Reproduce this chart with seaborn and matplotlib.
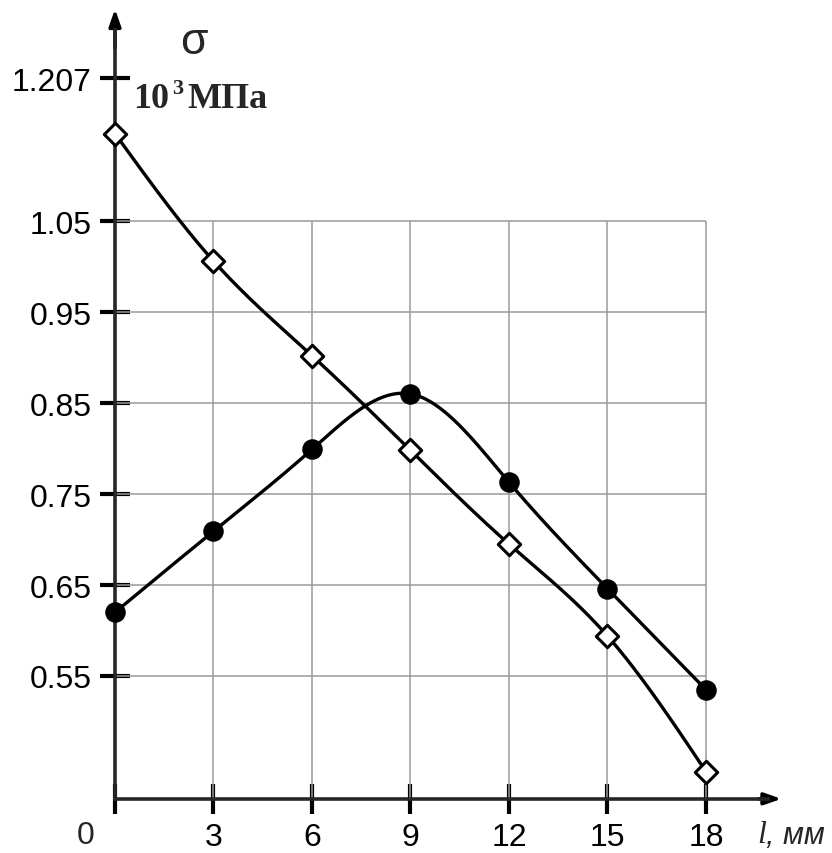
import numpy as np
import pandas as pd
import matplotlib
matplotlib.use("Agg")
import matplotlib.pyplot as plt
import seaborn as sns

# ---- data ----
l_mm = [0, 3, 6, 9, 12, 15, 18]
sigma_diamond = [1.146, 1.006, 0.902, 0.798, 0.695, 0.594, 0.445]
sigma_circle = [0.620, 0.709, 0.799, 0.860, 0.763, 0.646, 0.535]
x_ticks = [0, 3, 6, 9, 12, 15, 18]
y_grid = [0.55, 0.65, 0.75, 0.85, 0.95, 1.05]
y_ticks = [0.55, 0.65, 0.75, 0.85, 0.95, 1.05, 1.207]
y_tick_labels = ["0.55", "0.65", "0.75", "0.85", "0.95", "1.05", "1.207"]


def natural_spline(x, y, xs):
    x = np.asarray(x, float); y = np.asarray(y, float)
    n = len(x); h = np.diff(x)
    A = np.zeros((n, n)); r = np.zeros(n)
    A[0, 0] = A[-1, -1] = 1
    for i in range(1, n - 1):
        A[i, i - 1] = h[i - 1]; A[i, i] = 2 * (h[i - 1] + h[i]); A[i, i + 1] = h[i]
        r[i] = 6 * ((y[i + 1] - y[i]) / h[i] - (y[i] - y[i - 1]) / h[i - 1])
    M = np.linalg.solve(A, r)
    out = np.empty_like(xs)
    for k, t in enumerate(xs):
        i = min(max(np.searchsorted(x, t) - 1, 0), n - 2)
        a = x[i + 1] - t; b = t - x[i]
        out[k] = (M[i] * a**3 + M[i + 1] * b**3) / (6 * h[i]) \
            + (y[i] / h[i] - M[i] * h[i] / 6) * a + (y[i + 1] / h[i] - M[i + 1] * h[i] / 6) * b
    return out


sns.set_style("white")
plt.rcParams["font.family"] = ["Liberation Sans Narrow", "Liberation Sans", "DejaVu Sans"]

W, H = 832, 854
fig = plt.figure(figsize=(W / 100, H / 100), dpi=100)
ax = fig.add_axes([0, 0, 1, 1])
px_x = 32.83   # px per mm
px_y = 910.0   # px per unit
x0p, y0p = 115, 677  # pixel of x=0, y=0.55
ax.set_xlim(-x0p / px_x, (W - x0p) / px_x)
ax.set_ylim(0.55 - (H - y0p) / px_y, 0.55 + y0p / px_y)

y_bot = 0.415
# grid
ax.vlines(x_ticks[1:], y_bot, y_grid[-1], color="#9a9a9a", lw=1.1, zorder=1)
ax.hlines(y_grid, 0, x_ticks[-1], color="#9a9a9a", lw=1.1, zorder=1)

# smooth curves
xs = np.linspace(l_mm[0], l_mm[-1], 400)
df_d = pd.DataFrame({"l": xs, "s": natural_spline(l_mm, sigma_diamond, xs)})
df_c = pd.DataFrame({"l": xs, "s": natural_spline(l_mm, sigma_circle, xs)})
sns.lineplot(data=df_d, x="l", y="s", ax=ax, color="black", lw=2.4, sort=False, zorder=3)
sns.lineplot(data=df_c, x="l", y="s", ax=ax, color="black", lw=2.4, sort=False, zorder=3)

pts_d = pd.DataFrame({"l": l_mm, "s": sigma_diamond})
pts_c = pd.DataFrame({"l": l_mm, "s": sigma_circle})
sns.scatterplot(data=pts_c, x="l", y="s", ax=ax, marker="o", s=190, color="black",
                edgecolor="black", linewidth=1, zorder=5, clip_on=False)
sns.scatterplot(data=pts_d, x="l", y="s", ax=ax, marker="D", s=130, color="white",
                edgecolor="black", linewidth=2.2, zorder=5, clip_on=False)

# axes / spines
for s in ["top", "right"]:
    ax.spines[s].set_visible(False)
ax.spines["left"].set_position(("data", 0))
ax.spines["bottom"].set_position(("data", y_bot))
ax.spines["left"].set_linewidth(2.6)
ax.spines["bottom"].set_linewidth(2.6)
ax.spines["left"].set_bounds(y_bot, 1.26)
ax.spines["bottom"].set_bounds(0, 19.9)
ax.spines["left"].set_zorder(4)
ax.spines["bottom"].set_zorder(4)
ax.annotate("", xy=(0, 1.283), xytext=(0, 1.24),
            arrowprops=dict(arrowstyle="-|>,head_length=1.0,head_width=0.35",
                            color="black", lw=2.6, shrinkA=0, shrinkB=0), annotation_clip=False)
ax.annotate("", xy=(20.3, y_bot), xytext=(19.6, y_bot),
            arrowprops=dict(arrowstyle="-|>,head_length=1.0,head_width=0.35",
                            color="black", lw=2.6, shrinkA=0, shrinkB=0), annotation_clip=False)

ax.set_xticks(x_ticks)
ax.set_xticklabels([""] + [str(v) for v in x_ticks[1:]])
ax.set_yticks(y_ticks)
ax.set_yticklabels(y_tick_labels)
ax.tick_params(axis="both", direction="inout", length=22, width=3, labelsize=23,
               colors="black", bottom=True, left=True, zorder=4)
ax.tick_params(axis="y", pad=6)
ax.tick_params(axis="x", pad=6)
ax.set_xlabel(""); ax.set_ylabel("")
ax.text(-0.9, 0.55 - (836 - y0p) / px_y, "0", ha="center", va="center", fontsize=23)

# axis labels
fig.text(757 / W, 1 - 836 / H, "l", fontsize=23, style="italic",
         family="Liberation Serif", ha="left", va="center")
fig.text(766 / W, 1 - 836 / H, ", мм", fontsize=22, style="italic", ha="left", va="center")
fig.text(194 / W, 1 - 42 / H, "σ", fontsize=32, family="Liberation Sans", ha="center", va="center")
fig.text(133 / W, 1 - 108 / H, "10", fontsize=26, fontweight="bold",
         family="Liberation Serif", ha="left", va="baseline")
fig.text(172 / W, 1 - 94 / H, "3", fontsize=16, fontweight="bold",
         family="Liberation Serif", ha="left", va="baseline")
fig.text(187 / W, 1 - 108 / H, "МПа", fontsize=26, fontweight="bold",
         family="Liberation Serif", ha="left", va="baseline")

fig.savefig("out.png", dpi=100)
